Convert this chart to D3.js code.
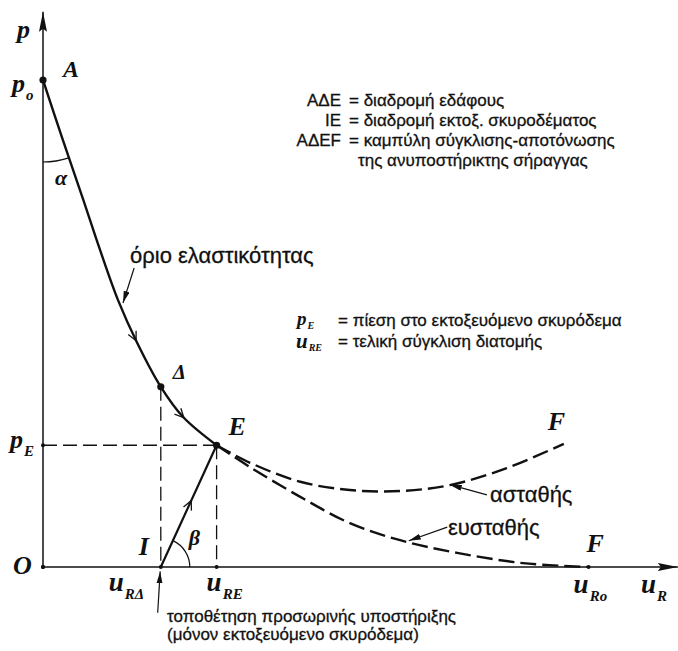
<!DOCTYPE html>
<html>
<head>
<meta charset="utf-8">
<script src="https://cdn.jsdelivr.net/npm/d3@7"></script>
<style>
  html, body { margin: 0; padding: 0; background: #fff; }
  .sans { font-family: "Liberation Sans", Arial, sans-serif; fill: #111; stroke: #111; stroke-width: 0.3; }
  .math { font-family: "Liberation Serif", "Times New Roman", serif; font-style: italic; font-weight: bold; fill: #111; }
</style>
</head>
<body>
<div id="chart"></div>
<script>
// ground reaction curve, values in % of p_o and of the largest convergence
const soilPath = [[0, 100], [3.2, 87.7], [6.5, 75.4], [9.2, 65.1], [12.1, 54.8], [15.2, 46], [19, 37], [22.6, 30.8], [28, 25]]
const unstablePath = [[28, 25], [33.4, 21.4], [41.5, 17.5], [49.5, 15.8], [57.6, 15.6], [65.6, 16.8], [74.8, 20.3], [84, 25.3]]
const stablePath = [[28, 25], [33.4, 20.5], [41.5, 14.4], [49.5, 9], [57.6, 5.5], [66.8, 2.9], [77.4, 0.8], [88, 0]]
const shotcretePath = [[19, 0], [28, 25]]

const pointA = [0, 100]
const pointD = [19, 37]
const pointE = [28, 25]
const pointI = [19, 0]
const pointF = [88, 0]

const xTicks = [0, 19, 28, 88]
const yTicks = [0, 25, 100]

const legendKeys = ['ΑΔΕ', 'IE', 'ΑΔΕF', '']
const legendTexts = ['= διαδρομή εδάφους', '= διαδρομή εκτοξ. σκυροδέματος', '= καμπύλη σύγκλισης-αποτόνωσης', 'της ανυποστήρικτης σήραγγας']
const noteLines = ['τοποθέτηση προσωρινής υποστήριξης', '(μόνον εκτοξευόμενο σκυρόδεμα)']

const W = 678, H = 651
const x = d3.scaleLinear().domain([0, 100]).range([43, 663])
const y = d3.scaleLinear().domain([0, 100]).range([567, 80])

const svg = d3.select('#chart').append('svg').attr('width', W).attr('height', H)

// markers
const defs = svg.append('defs')
defs.append('marker').attr('id', 'axisArrow')
  .attr('viewBox', '0 0 20 8').attr('refX', 20).attr('refY', 4)
  .attr('markerWidth', 20).attr('markerHeight', 8).attr('markerUnits', 'userSpaceOnUse')
  .attr('orient', 'auto')
  .append('path').attr('d', 'M0,0L20,4L0,8L3,4Z').attr('fill', '#111')
defs.append('marker').attr('id', 'leadArrow')
  .attr('viewBox', '0 0 12 6').attr('refX', 12).attr('refY', 3)
  .attr('markerWidth', 12).attr('markerHeight', 6).attr('markerUnits', 'userSpaceOnUse')
  .attr('orient', 'auto')
  .append('path').attr('d', 'M0,0L12,3L0,6Z').attr('fill', '#111')

const line = d3.line().x(d => x(d[0])).y(d => y(d[1]))
const curve = d3.line().x(d => x(d[0])).y(d => y(d[1])).curve(d3.curveCatmullRom.alpha(0.5))

// axes
svg.append('path').attr('d', line([[0, 0], [0, 114]]))
  .attr('stroke', '#111').attr('stroke-width', 1.5).attr('fill', 'none').attr('marker-end', 'url(#axisArrow)')
svg.append('path').attr('d', line([[0, 0], [102.4, 0]]))
  .attr('stroke', '#111').attr('stroke-width', 1.5).attr('fill', 'none').attr('marker-end', 'url(#axisArrow)')

// dashed guides
const guide = { stroke: '#111', 'stroke-width': 1.3, 'stroke-dasharray': '14,6', fill: 'none' }
function applyAttrs(sel, o) { Object.entries(o).forEach(([k, v]) => sel.attr(k, v)); return sel }
applyAttrs(svg.append('path').attr('d', line([[0, pointE[1]], pointE])), guide)
applyAttrs(svg.append('path').attr('d', line([pointD, [pointD[0], 0]])), guide)
applyAttrs(svg.append('path').attr('d', line([pointE, [pointE[0], 0]])), guide)

// curves
const soil = svg.append('path').attr('d', curve(soilPath))
  .attr('stroke', '#111').attr('stroke-width', 2.4).attr('fill', 'none')
const unstable = svg.append('path').attr('d', curve(unstablePath))
  .attr('stroke', '#111').attr('stroke-width', 2.4).attr('fill', 'none').attr('stroke-dasharray', '16,6')
const stable = svg.append('path').attr('d', curve(stablePath))
  .attr('stroke', '#111').attr('stroke-width', 2.4).attr('fill', 'none').attr('stroke-dasharray', '16,6')
const shot = svg.append('path').attr('d', line(shotcretePath))
  .attr('stroke', '#111').attr('stroke-width', 2.2).attr('fill', 'none')

// chevrons along paths
function chevron(pathSel, target) {
  const node = pathSel.node()
  const len = node.getTotalLength()
  const tx = x(target[0]), ty = y(target[1])
  let best = 0, bestD = Infinity
  for (let l = 0; l <= len; l += 0.5) {
    const p = node.getPointAtLength(l)
    const d = (p.x - tx) ** 2 + (p.y - ty) ** 2
    if (d < bestD) { bestD = d; best = l }
  }
  const p = node.getPointAtLength(best)
  const q = node.getPointAtLength(Math.max(0, best - 2))
  const ang = Math.atan2(p.y - q.y, p.x - q.x)
  const s = 10, a = 0.45
  const b1 = [p.x - s * Math.cos(ang - a), p.y - s * Math.sin(ang - a)]
  const b2 = [p.x - s * Math.cos(ang + a), p.y - s * Math.sin(ang + a)]
  svg.append('path').attr('d', `M${b1}L${p.x},${p.y}L${b2}`)
    .attr('stroke', '#111').attr('stroke-width', 1.3).attr('fill', 'none')
}
chevron(soil, [14.2, 46])
chevron(soil, [22.8, 30.8])
chevron(shot, [23.6, 13.8])

// angle arcs (d3.arc angles: 0 = up, clockwise)
const angA = Math.atan2(x(soilPath[1][0]) - x(pointA[0]), y(pointA[1]) - y(soilPath[1][1]))
svg.append('path')
  .attr('d', d3.arc()({ innerRadius: 82, outerRadius: 82, startAngle: angA, endAngle: Math.PI }))
  .attr('transform', `translate(${x(pointA[0])},${y(pointA[1])})`)
  .attr('stroke', '#111').attr('stroke-width', 1.2).attr('fill', 'none')
const angB = Math.atan2(x(pointE[0]) - x(pointI[0]), y(pointI[1]) - y(pointE[1]))
svg.append('path')
  .attr('d', d3.arc()({ innerRadius: 29, outerRadius: 29, startAngle: angB, endAngle: Math.PI / 2 }))
  .attr('transform', `translate(${x(pointI[0])},${y(pointI[1])})`)
  .attr('stroke', '#111').attr('stroke-width', 1.2).attr('fill', 'none')

// dots
svg.selectAll('.big').data([pointA, pointD, pointE]).enter().append('circle')
  .attr('cx', d => x(d[0])).attr('cy', d => y(d[1])).attr('r', 3.6).attr('fill', '#111')
svg.selectAll('.xt').data(xTicks).enter().append('circle')
  .attr('cx', d => x(d)).attr('cy', y(0)).attr('r', 2).attr('fill', '#111')
svg.selectAll('.yt').data(yTicks).enter().append('circle')
  .attr('cx', x(0)).attr('cy', d => y(d)).attr('r', 2).attr('fill', '#111')

// leader arrows
function leader(from, to) {
  svg.append('path').attr('d', line([from, to]))
    .attr('stroke', '#111').attr('stroke-width', 1.2).attr('fill', 'none').attr('marker-end', 'url(#leadArrow)')
}
leader([14.7, 61.4], [12.9, 54.2])
leader([71.6, 14.8], [65.6, 16.9])
leader([65.2, 8.2], [59, 5.4])
leader([18.5, -9.4], [18.9, -0.9])

// math labels
function mathLabel(px, py, main, sub, size, subSize, subDy) {
  const t = svg.append('text').attr('class', 'math').attr('x', px).attr('y', py).attr('font-size', size).text(main)
  if (sub) t.append('tspan').attr('font-size', subSize || 15).attr('dy', subDy || 8).attr('dx', 1).text(sub)
  return t
}
mathLabel(x(0) - 26, 38, 'p', null, 26)
mathLabel(x(pointA[0]) + 20, y(pointA[1]) - 3, 'A', null, 24)
mathLabel(12, y(100) + 12, 'p', 'o', 26)
mathLabel(55, 185, 'α', null, 22)
mathLabel(x(pointD[0]) + 12, y(pointD[1]) - 8, 'Δ', null, 21)
mathLabel(x(pointE[0]) + 12, y(pointE[1]) - 10, 'E', null, 26)
mathLabel(10, y(pointE[1]) + 3, 'p', 'E', 26)
mathLabel(13, y(0) + 7, 'O', null, 26)
mathLabel(x(pointI[0]) - 22, y(0) - 12, 'I', null, 26)
mathLabel(x(pointI[0]) + 28, y(0) - 22, 'β', null, 22)
mathLabel(x(pointF[0]) - 2, y(0) - 15, 'F', null, 26)
mathLabel(x(unstablePath[unstablePath.length - 1][0]) - 16, y(unstablePath[unstablePath.length - 1][1]) - 14, 'F', null, 26)
mathLabel(x(19) - 52, y(0) + 24, 'u', 'RΔ', 27)
mathLabel(x(28) - 10, y(0) + 24, 'u', 'RE', 27)
mathLabel(x(88) - 15, y(0) + 26, 'u', 'Ro', 27)
mathLabel(641, y(0) + 26, 'u', 'R', 27)

// legend
const lg = svg.append('g')
legendKeys.forEach((k, i) => {
  const by = 106 + i * 20
  lg.append('text').attr('class', 'sans').attr('x', 341).attr('y', by).attr('text-anchor', 'end').attr('font-size', 17).text(k)
  lg.append('text').attr('class', 'sans').attr('x', k ? 349 : 358).attr('y', by).attr('font-size', 17).text(legendTexts[i])
})
mathLabel(297, 325, 'p', 'E', 19, 10, 4)
svg.append('text').attr('class', 'sans').attr('x', 338).attr('y', 326).attr('font-size', 17).text('= πίεση στο εκτοξευόμενο σκυρόδεμα')
mathLabel(296, 348, 'u', 'RE', 21, 10, 3)
svg.append('text').attr('class', 'sans').attr('x', 338).attr('y', 347).attr('font-size', 17).text('= τελική σύγκλιση διατομής')

// annotations
svg.append('text').attr('class', 'sans').attr('x', 130).attr('y', 263).attr('font-size', 22).text('όριο ελαστικότητας')
svg.append('text').attr('class', 'sans').attr('x', 490).attr('y', 502).attr('font-size', 22).text('ασταθής')
svg.append('text').attr('class', 'sans').attr('x', 448).attr('y', 535).attr('font-size', 22).text('ευσταθής')
noteLines.forEach((t, i) => {
  svg.append('text').attr('class', 'sans').attr('x', 167).attr('y', 622 + i * 18).attr('font-size', 17).text(t)
})
</script>
</body>
</html>
